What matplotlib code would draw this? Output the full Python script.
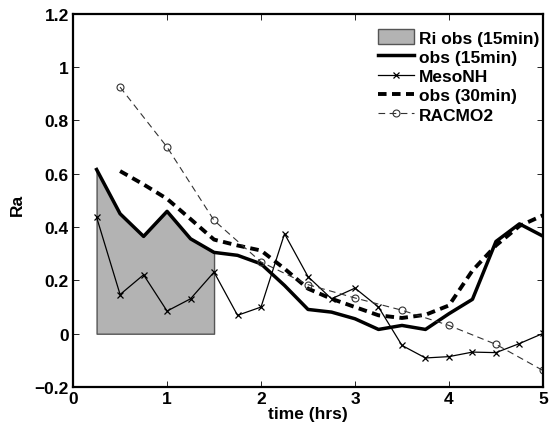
import matplotlib
matplotlib.use("Agg")
import matplotlib.pyplot as plt
import numpy as np

plt.rcParams['font.family'] = ['Liberation Sans', 'DejaVu Sans']
plt.rcParams['font.weight'] = 'bold'

# obs (15min)
t15 = [0.25, 0.5, 0.75, 1.0, 1.25, 1.5, 1.75, 2.0, 2.25, 2.5, 2.75, 3.0, 3.25,
       3.5, 3.75, 4.0, 4.25, 4.5, 4.75, 5.0]
obs15 = [0.616, 0.45, 0.365, 0.459, 0.356, 0.305, 0.294, 0.262, 0.181, 0.091,
         0.081, 0.056, 0.016, 0.031, 0.016, 0.075, 0.129, 0.346, 0.412, 0.366]

# MesoNH
meso = [0.437, 0.147, 0.221, 0.085, 0.131, 0.231, 0.069, 0.10, 0.375, 0.214,
        0.131, 0.171, 0.10, -0.044, -0.091, -0.086, -0.069, -0.071, -0.037, 0.001]

# obs (30min)
t30 = [0.5, 0.75, 1.0, 1.25, 1.5, 1.75, 2.0, 2.25, 2.5, 2.75, 3.0, 3.25, 3.5,
       3.75, 4.0, 4.25, 4.5, 4.75, 5.0]
obs30 = [0.61, 0.56, 0.506, 0.43, 0.353, 0.331, 0.312, 0.244, 0.169, 0.131,
         0.10, 0.069, 0.059, 0.071, 0.106, 0.237, 0.331, 0.404, 0.444]

# RACMO2
tr = [0.5, 1.0, 1.5, 2.0, 2.5, 3.0, 3.5, 4.0, 4.5, 5.0]
racmo = [0.925, 0.70, 0.425, 0.269, 0.184, 0.134, 0.088, 0.031, -0.04, -0.138]

# Ri obs (15min) shaded period
ri_t = t15[:6]
ri_v = obs15[:6]

FS = 12.5

fig = plt.figure(figsize=(5.58, 4.27), dpi=100)
ax = fig.add_axes([0.131, 0.0913, 0.842, 0.874])

ax.fill_between(ri_t, 0, ri_v, facecolor='#b3b3b3', edgecolor='#555555',
                linewidth=1.0, label='Ri obs (15min)')
ax.plot(t15, obs15, color='black', linewidth=2.5, label='obs (15min)')
ax.plot(t15, meso, color='black', linewidth=0.9, marker='x', markersize=4,
        markeredgewidth=0.9, label='MesoNH')
ax.plot(t30, obs30, color='black', linewidth=2.8, linestyle=(0, (2.2, 1.4)),
        label='obs (30min)')
ax.plot(tr, racmo, color='#333333', linewidth=0.8, linestyle=(0, (6, 4)),
        marker='o', markersize=5, markerfacecolor='none', markeredgewidth=0.8,
        label='RACMO2')

ax.set_xlim(0, 5)
ax.set_ylim(-0.2, 1.2)
ax.set_xticks([0, 1, 2, 3, 4, 5])
ax.set_yticks([-0.2, 0, 0.2, 0.4, 0.6, 0.8, 1.0, 1.2])
ax.set_yticklabels(['\u22120.2', '0', '0.2', '0.4', '0.6', '0.8', '1', '1.2'])
ax.tick_params(direction='in', top=True, right=True, length=4, width=0.6,
               labelsize=FS, pad=3)
for lab in ax.get_xticklabels() + ax.get_yticklabels():
    lab.set_fontweight('bold')
for s in ax.spines.values():
    s.set_linewidth(1.6)

ax.set_xlabel('time (hrs)', fontsize=FS, fontweight='bold', labelpad=0)
ax.set_ylabel('Ra', fontsize=FS, fontweight='bold')
ax.yaxis.set_label_coords(-0.102, 0.49)

leg = ax.legend(loc='upper left', bbox_to_anchor=(0.677, 0.929),
                bbox_transform=fig.transFigure, frameon=False,
                handlelength=2.1, handleheight=0.9, handletextpad=0.25,
                labelspacing=0.18, borderaxespad=0, borderpad=0,
                prop={'weight': 'bold', 'size': FS})

fig.savefig('out.png', dpi=100)
